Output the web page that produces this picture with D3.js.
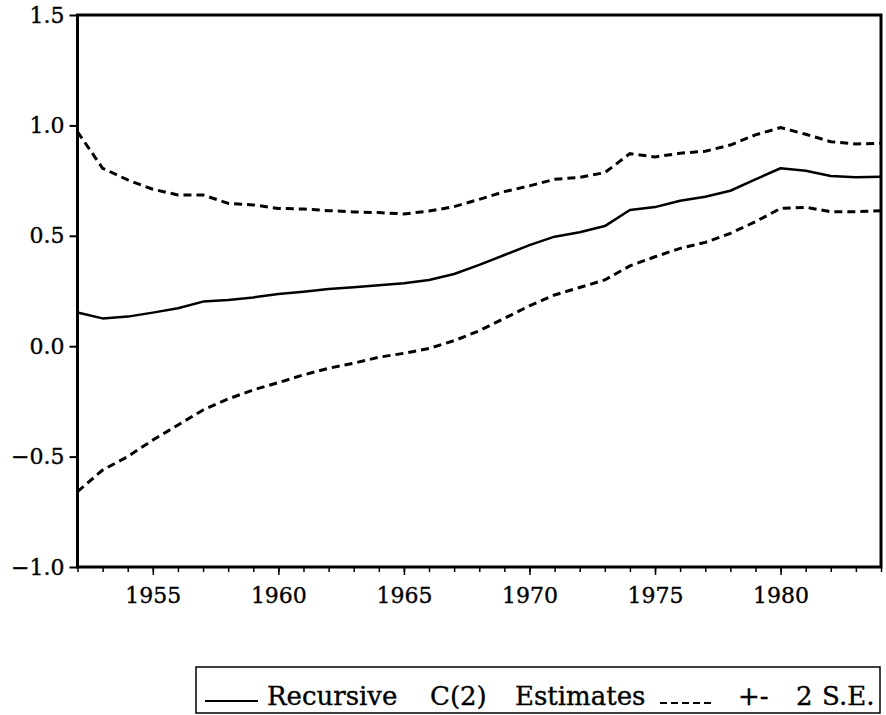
<!DOCTYPE html>
<html>
<head>
<meta charset="utf-8">
<script src="https://cdn.jsdelivr.net/npm/d3@7"></script>
<style>
  body { margin: 0; background: #fff; }
  text { font-family: "DejaVu Serif", serif; fill: #000; stroke: #000; stroke-width: 0.35px; }
</style>
</head>
<body>
<script>
// recursive coefficient estimate with +/- 2 S.E. bands
const years = [1952, 1953, 1954, 1955, 1956, 1957, 1958, 1959, 1960, 1961, 1962,
  1963, 1964, 1965, 1966, 1967, 1968, 1969, 1970, 1971, 1972, 1973,
  1974, 1975, 1976, 1977, 1978, 1979, 1980, 1981, 1982, 1983, 1984];

const estimate = [0.153, 0.126, 0.134, 0.152, 0.172, 0.202, 0.209, 0.221, 0.236, 0.247, 0.259,
  0.267, 0.276, 0.285, 0.300, 0.327, 0.368, 0.413, 0.458, 0.496, 0.516, 0.544,
  0.617, 0.630, 0.659, 0.677, 0.704, 0.756, 0.806, 0.795, 0.771, 0.765, 0.768];

const upper = [0.971, 0.806, 0.753, 0.711, 0.685, 0.685, 0.647, 0.640, 0.624, 0.621, 0.614,
  0.608, 0.605, 0.599, 0.612, 0.632, 0.665, 0.700, 0.726, 0.756, 0.765, 0.786,
  0.872, 0.857, 0.874, 0.883, 0.911, 0.957, 0.990, 0.960, 0.926, 0.916, 0.919];

const lower = [-0.659, -0.561, -0.500, -0.425, -0.357, -0.289, -0.239, -0.198, -0.165, -0.130, -0.100,
  -0.077, -0.050, -0.032, -0.010, 0.025, 0.070, 0.126, 0.183, 0.232, 0.266, 0.300,
  0.364, 0.405, 0.443, 0.470, 0.511, 0.564, 0.624, 0.629, 0.609, 0.609, 0.614];

const yTicks = [-1.0, -0.5, 0.0, 0.5, 1.0, 1.5];
const xMajor = [1955, 1960, 1965, 1970, 1975, 1980];

const W = 886, H = 715;
const margin = { top: 15, right: 5, bottom: 148, left: 77.5 };

const svg = d3.select("body").append("svg")
  .attr("width", W)
  .attr("height", H);

const x = d3.scaleLinear().domain([1952, 1984]).range([margin.left, W - margin.right]);
const y = d3.scaleLinear().domain([-1.0, 1.5]).range([H - margin.bottom, margin.top]);

svg.append("clipPath").attr("id", "plot")
  .append("rect")
  .attr("x", x(1952)).attr("y", y(1.5))
  .attr("width", x(1984) - x(1952)).attr("height", y(-1.0) - y(1.5));

const line = d3.line().x((d, i) => x(years[i])).y(d => y(d));

const g = svg.append("g").attr("clip-path", "url(#plot)");

g.append("path").datum(upper)
  .attr("d", line).attr("fill", "none").attr("stroke", "#000")
  .attr("stroke-width", 3).attr("stroke-dasharray", "8,5");

g.append("path").datum(lower)
  .attr("d", line).attr("fill", "none").attr("stroke", "#000")
  .attr("stroke-width", 3).attr("stroke-dasharray", "8,5");

g.append("path").datum(estimate)
  .attr("d", line).attr("fill", "none").attr("stroke", "#000")
  .attr("stroke-width", 2.5).attr("stroke-linejoin", "round");

// frame
svg.append("rect")
  .attr("x", x(1952)).attr("y", y(1.5))
  .attr("width", x(1984) - x(1952)).attr("height", y(-1.0) - y(1.5))
  .attr("fill", "none").attr("stroke", "#000").attr("stroke-width", 3);

// y axis
const yAxis = d3.axisLeft(y).tickValues(yTicks).tickSize(8).tickPadding(5)
  .tickFormat(d => d3.format(".1f")(d).replace("-", "\u2212"));
const ya = svg.append("g").attr("transform", `translate(${x(1952)},0)`).call(yAxis);
ya.select(".domain").remove();
ya.selectAll("line").attr("stroke-width", 2);
ya.selectAll("text").style("font-family", "DejaVu Serif").style("font-size", "22px");

// x axis: yearly minor ticks, labelled every five years
const xMinor = d3.range(1952, 1985);
const xa = svg.append("g").attr("transform", `translate(0,${y(-1.0)})`)
  .call(d3.axisBottom(x).tickValues(xMinor).tickSize(5).tickFormat(""));
xa.select(".domain").remove();
xa.selectAll("line").attr("stroke-width", 1.5);

const xb = svg.append("g").attr("transform", `translate(0,${y(-1.0)})`)
  .call(d3.axisBottom(x).tickValues(xMajor).tickSize(8).tickPadding(12).tickFormat(d3.format("d")));
xb.select(".domain").remove();
xb.selectAll("line").attr("stroke-width", 1.5);
xb.selectAll("text").style("font-family", "DejaVu Serif").style("font-size", "22px");

// legend
const leg = svg.append("g");
leg.append("rect")
  .attr("x", 196).attr("y", 667).attr("width", 684).attr("height", 46)
  .attr("fill", "none").attr("stroke", "#000").attr("stroke-width", 1.5);
leg.append("line")
  .attr("x1", 205).attr("x2", 258).attr("y1", 701).attr("y2", 701)
  .attr("stroke", "#000").attr("stroke-width", 2);
leg.append("line")
  .attr("x1", 660).attr("x2", 714).attr("y1", 703).attr("y2", 703)
  .attr("stroke", "#000").attr("stroke-width", 2).attr("stroke-dasharray", "7,4");

const legItems = [
  { t: "Recursive", x: 267 },
  { t: "C(2)", x: 430 },
  { t: "Estimates", x: 515 },
  { t: "+-", x: 738 },
  { t: "2", x: 796 },
  { t: "S.E.", x: 822 }
];
leg.selectAll("text.lab").data(legItems).join("text")
  .attr("class", "lab")
  .attr("x", d => d.x).attr("y", 705)
  .style("font-size", "26px")
  .text(d => d.t);
</script>
</body>
</html>
